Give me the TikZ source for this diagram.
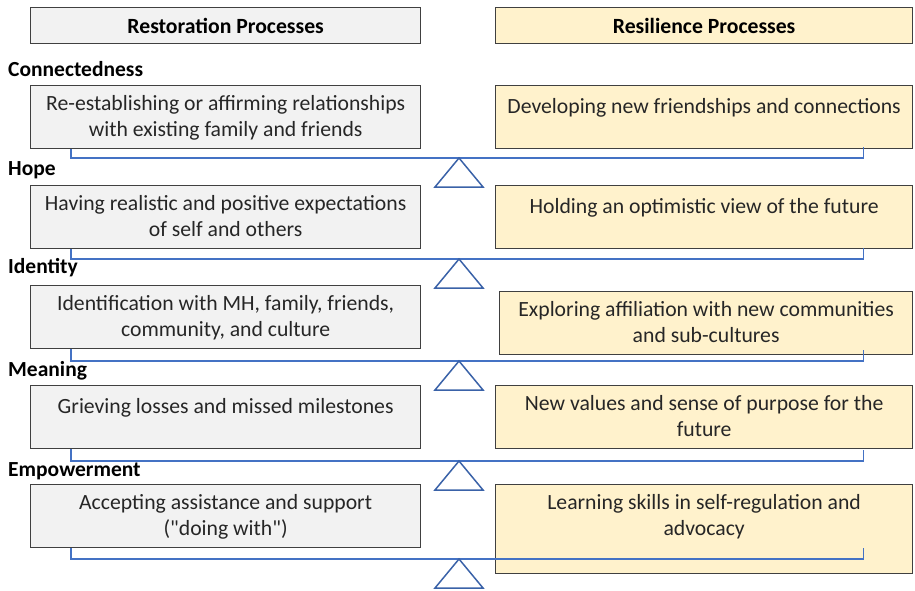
\documentclass[tikz,border=0pt]{standalone}
\usepackage{xcolor}
\usepackage{fontspec}
\setmainfont{Carlito}
\usepackage{tikz}
\usetikzlibrary{calc,positioning}

\definecolor{restfill}{HTML}{F2F2F2}
\definecolor{resifill}{HTML}{FFF2CC}
\definecolor{boxline}{HTML}{404040}
\definecolor{beamblue}{HTML}{4472C4}
\definecolor{fulcblue}{HTML}{3A62A8}
\definecolor{txtgray}{HTML}{262626}

\tikzset{
  procbox/.style={draw=boxline, line width=1.3pt, anchor=north west, inner sep=0pt},
  restbox/.style={procbox, fill=restfill, minimum width=390pt, minimum height=63pt},
  resibox/.style={procbox, fill=resifill, minimum width=417pt, minimum height=63pt},
  boxtext/.style={anchor=north, yshift=-10pt, inner sep=0pt, align=center, text=txtgray,
    font=\fontsize{21.7}{26.5}\selectfont, execute at begin node=\strut},
  headtext/.style={font=\fontsize{21.7}{26}\selectfont\bfseries},
  rowlabel/.style={anchor=base west, inner sep=0pt, font=\fontsize{21.5}{26}\selectfont\bfseries},
  beam/.style={draw=beamblue, line width=1.3pt},
  fulcrum/.style={draw=fulcblue, line width=1.5pt, line join=miter},
}

\begin{document}
\begin{tikzpicture}[x=1pt, y=-1pt]
    \useasboundingbox (0,0) rectangle (915,590);

    % Column headings
    \node[restbox, minimum height=36pt, headtext] (rh) at (30,7) {Restoration Processes};
    \node[resibox, minimum height=36pt, headtext] (sh) at (495,7) {Resilience Processes};

    % Row labels
    \node[rowlabel] (lconn) at (8,76) {Connectedness};
    \node[rowlabel] (lhope) at (8,175) {Hope};
    \node[rowlabel] (lident) at (8,273) {Identity};
    \node[rowlabel] (lmean) at (8,376) {Meaning};
    \node[rowlabel] (lempow) at (8,476) {Empowerment};

    % Restoration boxes (left)
    \node[restbox, label={[boxtext]north:{Re-establishing or affirming relationships\\with existing family and friends}}] (r1) at (30,85) {};
    \node[restbox, label={[boxtext]north:{Having realistic and positive expectations\\of self and others}}] (r2) at (30,185) {};
    \node[restbox, label={[boxtext]north:{Identification with MH, family, friends,\\community, and culture}}] (r3) at (30,285) {};
    \node[restbox, label={[boxtext]north:{Grieving losses and missed milestones}}] (r4) at (30,385) {};
    \node[restbox, label={[boxtext]north:{Accepting assistance and support\\(\textquotedbl doing with\textquotedbl)}}] (r5) at (30,484) {};

    % Resilience boxes (right)
    \node[resibox, label={[boxtext]north:{Developing new friendships and connections}}] (s1) at (495,85) {};
    \node[resibox, label={[boxtext]north:{Holding an optimistic view of the future}}] (s2) at (495,185) {};
    \node[resibox, minimum width=413pt, label={[boxtext]north:{Exploring affiliation with new communities\\and sub-cultures}}] (s3) at (499,291) {};
    \node[resibox, label={[boxtext]north:{New values and sense of purpose for the\\future}}] (s4) at (495,385) {};
    \node[resibox, minimum height=89pt, label={[boxtext]north:{Learning skills in self-regulation and\\advocacy}}] (s5) at (495,484) {};

    % Balance points
    \coordinate (f1) at (459,158);
    \coordinate (f2) at (459,259);
    \coordinate (f3) at (459,361);
    \coordinate (f4) at (459,461);
    \coordinate (f5) at (459,559);

    % Beams joining each pair
    \draw[beam] ([xshift=41pt]r1.south west) |- (f1) -| ($(f1 -| s1.east)+(-50,-11)$);
    \draw[beam] ([xshift=41pt]r2.south west) |- (f2) -| ($(f2 -| s2.east)+(-50,-11)$);
    \draw[beam] ([xshift=41pt]r3.south west) |- (f3) -| ($(f3 -| s3.east)+(-50,-11)$);
    \draw[beam] ([xshift=41pt]r4.south west) |- (f4) -| ($(f4 -| s4.east)+(-50,-11)$);
    \draw[beam] ([xshift=41pt]r5.south west) |- (f5) -| ($(f5 -| s5.east)+(-50,-11)$);

    % Fulcrum triangles
    \draw[fulcrum] (f1) -- ++(-24,29) -- ++(48,0) -- cycle;
    \draw[fulcrum] (f2) -- ++(-24,29) -- ++(48,0) -- cycle;
    \draw[fulcrum] (f3) -- ++(-24,29) -- ++(48,0) -- cycle;
    \draw[fulcrum] (f4) -- ++(-24,29) -- ++(48,0) -- cycle;
    \draw[fulcrum] (f5) -- ++(-24,29) -- ++(48,0) -- cycle;
\end{tikzpicture}
\end{document}
